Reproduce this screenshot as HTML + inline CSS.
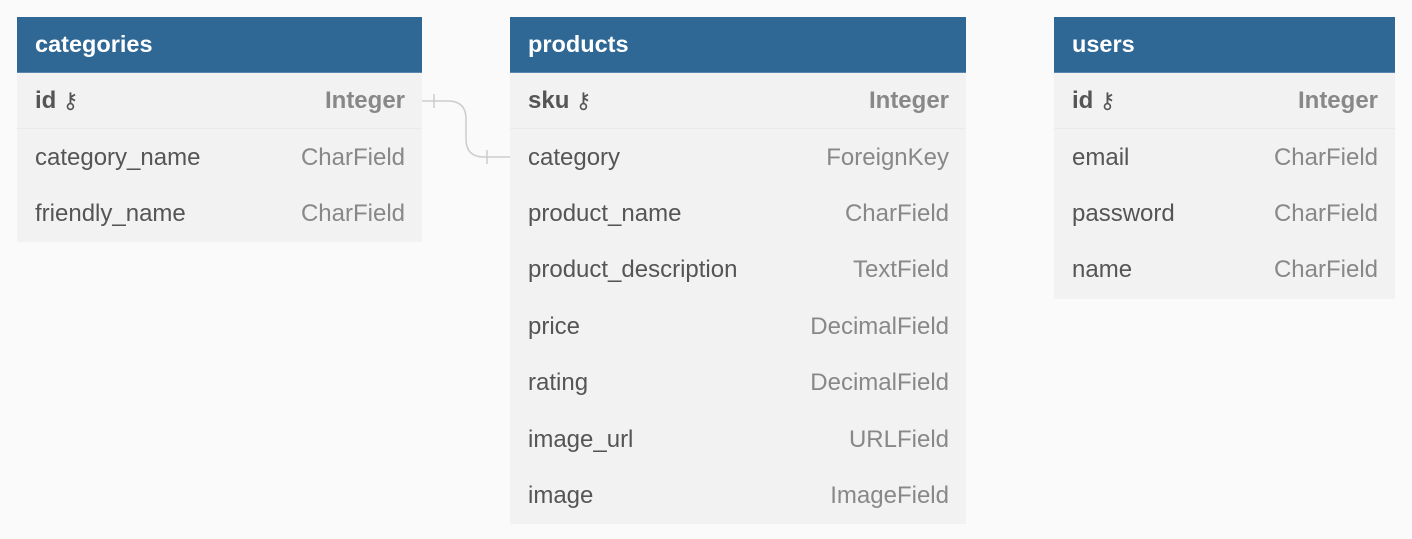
<!DOCTYPE html>
<html><head><meta charset="utf-8"><style>
body{margin:0;width:1412px;height:539px;background:#fafafa;font-family:"Liberation Sans",sans-serif;position:relative;overflow:hidden}
.t{position:absolute;background:#f2f2f2}
.h{height:56px;background:#306895;color:#fff;font-weight:bold;font-size:23.5px;line-height:54px;padding-left:18px;box-sizing:border-box;border-bottom:1px solid #5a86ad}
.r{height:56.4px;display:flex;justify-content:space-between;align-items:center;padding:0 17px 0 18px;font-size:24px;color:#555}
.r span:last-child{color:#888}
.r.pk{font-weight:bold;border-bottom:1px solid #eaeaea;box-sizing:border-box}
.r.pk span:first-child{color:#555}
.k{font-weight:normal;color:#666;font-size:22px;margin-left:6px}
</style></head><body>
<svg width="1412" height="539" style="position:absolute;left:0;top:0">
<path d="M422 101 H448 Q466 101 466 119 V139 Q466 157 484 157 H510" fill="none" stroke="#ccc" stroke-width="1.5"/>
<line x1="434" y1="94" x2="434" y2="108" stroke="#ccc" stroke-width="1.5"/>
<line x1="487" y1="150" x2="487" y2="164" stroke="#ccc" stroke-width="1.5"/>
</svg>
<div class="t" style="left:17px;top:17px;width:405px">
<div class="h">categories</div>
<div class="r pk"><span>id<span class="k">&#x26B7;</span></span><span>Integer</span></div>
<div class="r"><span>category_name</span><span>CharField</span></div>
<div class="r"><span>friendly_name</span><span>CharField</span></div>
</div>
<div class="t" style="left:510px;top:17px;width:456px">
<div class="h">products</div>
<div class="r pk"><span>sku<span class="k">&#x26B7;</span></span><span>Integer</span></div>
<div class="r"><span>category</span><span>ForeignKey</span></div>
<div class="r"><span>product_name</span><span>CharField</span></div>
<div class="r"><span>product_description</span><span>TextField</span></div>
<div class="r"><span>price</span><span>DecimalField</span></div>
<div class="r"><span>rating</span><span>DecimalField</span></div>
<div class="r"><span>image_url</span><span>URLField</span></div>
<div class="r"><span>image</span><span>ImageField</span></div>
</div>
<div class="t" style="left:1054px;top:17px;width:341px">
<div class="h">users</div>
<div class="r pk"><span>id<span class="k">&#x26B7;</span></span><span>Integer</span></div>
<div class="r"><span>email</span><span>CharField</span></div>
<div class="r"><span>password</span><span>CharField</span></div>
<div class="r"><span>name</span><span>CharField</span></div>
</div>
</body></html>
